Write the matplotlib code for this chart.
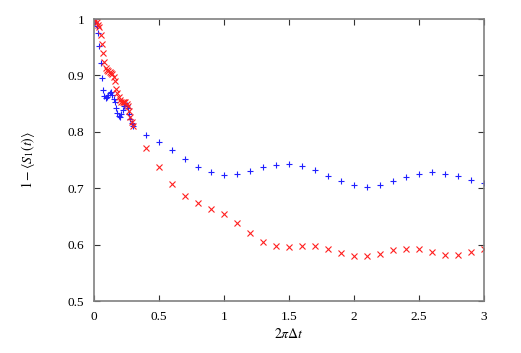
import numpy as np
import matplotlib
matplotlib.use("Agg")
import matplotlib.pyplot as plt

plt.rcParams['font.family'] = ['Liberation Serif', 'DejaVu Serif']
plt.rcParams['mathtext.fontset'] = 'stix'

# early, densely sampled part (step 0.01 from 0 to 0.30)
t_fine = [round(0.01 * i, 2) for i in range(31)]
blue_fine = [1.000, 0.995, 0.988, 0.975, 0.952, 0.922, 0.896, 0.875, 0.864, 0.860,
             0.861, 0.865, 0.869, 0.870, 0.866, 0.859, 0.853, 0.843, 0.834, 0.828,
             0.827, 0.831, 0.838, 0.845, 0.849, 0.848, 0.842, 0.832, 0.822, 0.815,
             0.810]
red_fine = [1.000, 0.997, 0.994, 0.990, 0.985, 0.972, 0.956, 0.940, 0.924, 0.914,
            0.909, 0.907, 0.906, 0.905, 0.902, 0.898, 0.890, 0.876, 0.868, 0.862,
            0.856, 0.853, 0.852, 0.852, 0.852, 0.850, 0.845, 0.836, 0.827, 0.818,
            0.810]

# coarse part (step 0.1 from 0.4 to 3.0)
t_coarse = [0.4, 0.5, 0.6, 0.7, 0.8, 0.9, 1.0, 1.1, 1.2, 1.3, 1.4, 1.5, 1.6, 1.7,
            1.8, 1.9, 2.0, 2.1, 2.2, 2.3, 2.4, 2.5, 2.6, 2.7, 2.8, 2.9, 3.0]
blue_coarse = [0.795, 0.782, 0.768, 0.752, 0.738, 0.728, 0.723, 0.725, 0.730, 0.738,
               0.742, 0.743, 0.740, 0.732, 0.722, 0.712, 0.705, 0.702, 0.706, 0.712,
               0.719, 0.725, 0.728, 0.726, 0.721, 0.715, 0.709]
red_coarse = [0.772, 0.737, 0.708, 0.687, 0.674, 0.664, 0.654, 0.638, 0.620, 0.605,
              0.597, 0.596, 0.597, 0.597, 0.592, 0.585, 0.579, 0.579, 0.583, 0.590,
              0.593, 0.592, 0.586, 0.582, 0.582, 0.586, 0.592]

xticks = [0, 0.5, 1, 1.5, 2, 2.5, 3]
xticklabels = ['0', '0.5', '1', '1.5', '2', '2.5', '3']
yticks = [0.5, 0.6, 0.7, 0.8, 0.9, 1.0]
yticklabels = ['0.5', '0.6', '0.7', '0.8', '0.9', '1']

fig = plt.figure(figsize=(5.21, 3.53), dpi=100)
ax = fig.add_axes([94/521, 52/353, 390/521, 282/353])

t_blue = t_fine + t_coarse
t_red = t_fine + t_coarse
ax.plot(t_blue, blue_fine + blue_coarse, linestyle='none', marker='+',
        color='#2020ff', markersize=4.5, mew=0.8, clip_on=True)
ax.plot(t_red, red_fine + red_coarse, linestyle='none', marker='x',
        color='#ff2020', markersize=3.8, mew=0.8, clip_on=True)

ax.set_xlim(0, 3)
ax.set_ylim(0.5, 1.0)
ax.set_xticks(xticks)
ax.set_xticklabels(xticklabels)
ax.set_yticks(yticks)
ax.set_yticklabels(yticklabels)
ax.tick_params(direction='in', top=True, right=True, length=4, width=0.8,
               labelsize=9.5, pad=7, color='#333333')
for s in ax.spines.values():
    s.set_color('#808080')
    s.set_linewidth(1.2)

ax.set_xlabel(r'$2\pi\Delta t$', fontsize=10, labelpad=3)
ax.set_ylabel(r'$1-\langle S_1(t)\rangle$', fontsize=10, labelpad=22)

fig.savefig('out.png', dpi=100)
